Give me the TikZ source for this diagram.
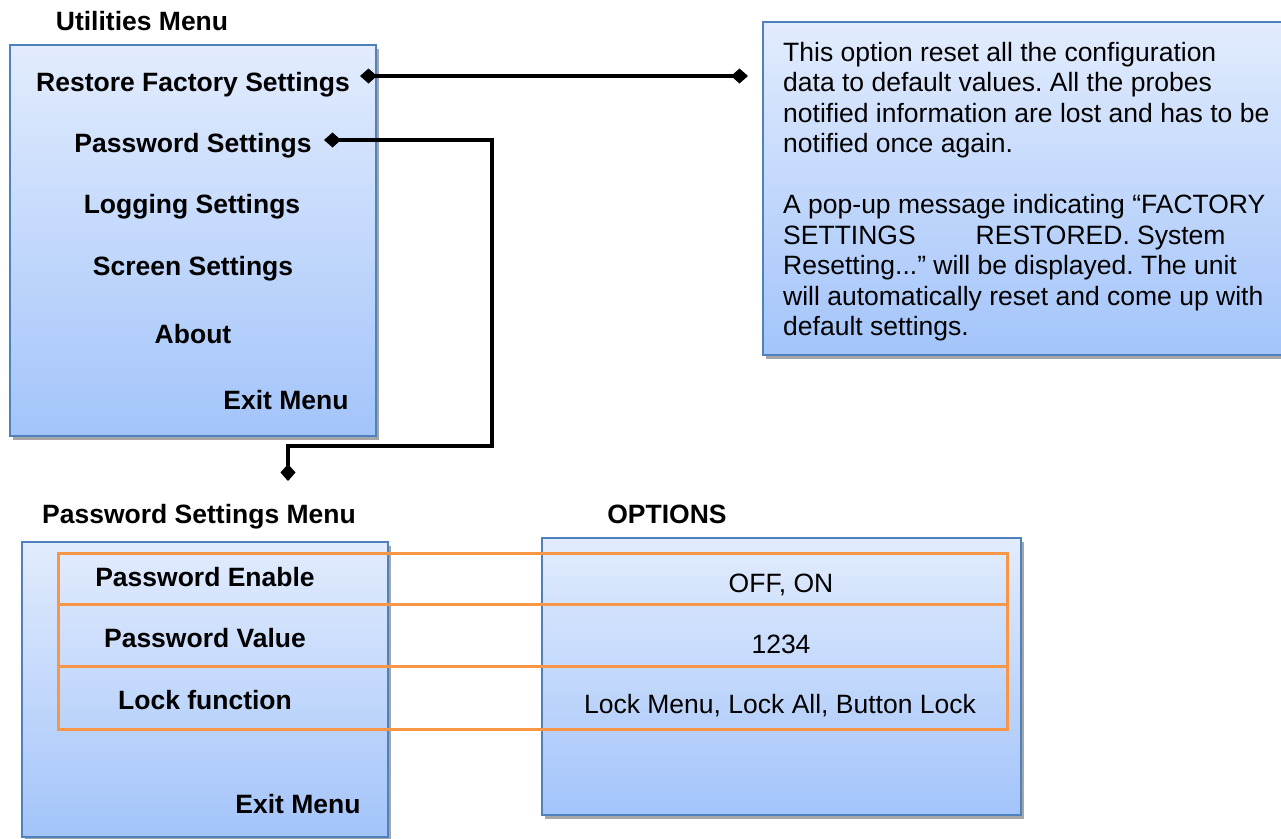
\documentclass[tikz,border=0pt]{standalone}
\usepackage{fontspec}
\setmainfont{Liberation Sans}
\usetikzlibrary{arrows.meta}
\usetikzlibrary{positioning}
\frenchspacing

\definecolor{boxtop}{RGB}{226,236,253}
\definecolor{boxbot}{RGB}{163,196,250}
\definecolor{boxline}{RGB}{79,129,189}
\definecolor{rowline}{RGB}{247,150,70}

\begin{document}
\begin{tikzpicture}[x=1pt,y=-1pt,
	menubox/.style={top color=boxtop,bottom color=boxbot,draw=boxline,line width=2pt},
	boxshadow/.style={fill=black!35},
	item/.style={font=\fontsize{26.5}{30.5}\selectfont\bfseries,anchor=base,inner sep=0pt},
	opt/.style={font=\fontsize{26.5}{30.5}\selectfont,anchor=base,inner sep=0pt},
	link/.style={line width=4pt,{Diamond[length=17pt,width=15pt]}-{Diamond[length=17pt,width=15pt]}},
	row/.style={draw=rowline,line width=3pt}]
		\useasboundingbox (0,0) rectangle (1281,838);
		\clip (0,0) rectangle (1281,838);

		\fill [boxshadow] (13,49) rectangle (379,440);
		\shade [menubox] (10,45) rectangle (376,436);
		\node [item] (utitle) at (142,30) {Utilities Menu};
		\node [item] (rfs) at (193,91) {Restore Factory Settings};
		\node [item] (pws) at (193,152) {Password Settings};
		\node [item] (logs) at (192,213) {Logging Settings};
		\node [item] (scrs) at (193,275) {Screen Settings};
		\node [item] (about) at (193,343) {About};
		\node [item] (uexit) at (286,409) {Exit Menu};

		\fill [boxshadow] (766,26) rectangle (1290,359);
		\shade [menubox] (763,22) rectangle (1290,355);
		\node [opt,anchor=north west,align=left] (info) at (783,42) {This option reset all the configuration\\
			data to default values. All the probes\\
			notified information are lost and has to be\\
			notified once again.\\[30.5pt]
			A pop-up message indicating “FACTORY\\
			SETTINGS\hspace{60pt}RESTORED. System\\
			Resetting...” will be displayed. The unit\\
			will automatically reset and come up with\\
			default settings.};

		\node [item] (ptitle) at (199,523) {Password Settings Menu};
		\node [item] (otitle) at (667,523) {OPTIONS};
		\fill [boxshadow] (25,546) rectangle (391,845);
		\shade [menubox] (22,542) rectangle (388,837);
		\fill [boxshadow] (545,542) rectangle (1024,819);
		\shade [menubox] (542,538) rectangle (1021,815);

		\draw [row] (58,553) rectangle (1007,729);
		\draw [row] (58,604) -- (1007,604);
		\draw [row] (58,666) -- (1007,666);
		\node [item] (penable) at (205,586) {Password Enable};
		\node [item] (pvalue) at (205,647) {Password Value};
		\node [item] (lockfn) at (205,709) {Lock function};
		\node [item] (pexit) at (298,813) {Exit Menu};
		\node [opt] (onoff) at (781,592) {OFF, ON};
		\node [opt] (pnum) at (781,653) {1234};
		\node [opt] (locks) at (780,713) {Lock Menu, Lock All, Button Lock};

		\coordinate (rfsdot) at (360,76);
		\coordinate (infodot) at (748,76);
		\draw [link] (rfsdot) -- (infodot);
		\coordinate (pwsdot) at (324,140);
		\coordinate (bend) at (492,446);
		\coordinate (pmdot) at (288,481);
		\draw [link] (pwsdot) -| (bend) -| (pmdot);
	\end{tikzpicture}
\end{document}
